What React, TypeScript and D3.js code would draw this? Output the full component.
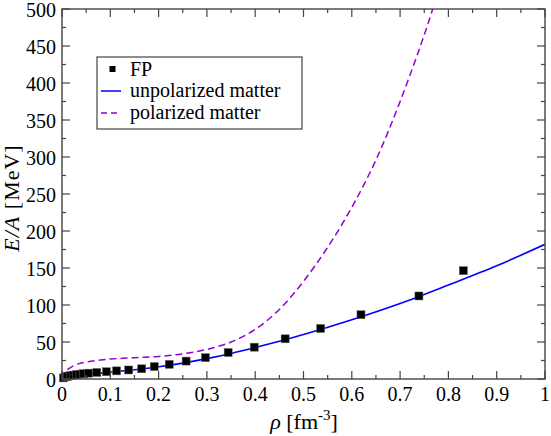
import React from "react";
import * as d3 from "d3";

const fpRho = [0.003, 0.008, 0.012, 0.017, 0.023, 0.03, 0.037, 0.045, 0.055, 0.072, 0.092, 0.113, 0.138, 0.165, 0.191, 0.222, 0.257, 0.297, 0.344, 0.398, 0.462, 0.5355, 0.619, 0.739, 0.831];
const fpE = [1.5, 3.0, 3.8, 4.5, 5.2, 5.9, 6.5, 7.2, 7.9, 8.8, 9.8, 11.0, 12.2, 13.8, 16.8, 19.8, 24.2, 28.8, 35.8, 43.0, 54.3, 68.3, 86.9, 112.2, 146.4];

const unpolRho = [0, 0.005, 0.01, 0.02, 0.04, 0.06, 0.08, 0.1, 0.15, 0.2, 0.25, 0.3, 0.35, 0.4, 0.45, 0.5, 0.6, 0.7, 0.8, 0.9, 1.0];
const unpolE = [0, 2.0, 2.8, 4.0, 5.6, 6.8, 8.0, 9.2, 12.5, 16.5, 21.5, 27.5, 34.5, 42.5, 51, 60, 80, 102, 127, 153, 182];

const polRho = [0, 0.005, 0.01, 0.02, 0.03, 0.04, 0.06, 0.08, 0.1, 0.15, 0.2, 0.25, 0.3, 0.35, 0.4, 0.45, 0.5, 0.55, 0.6, 0.65, 0.7, 0.75, 0.77, 0.78];
const polE = [0, 8, 12, 16.5, 19.5, 21.5, 24, 25.8, 27, 28.8, 30.5, 34, 40, 50, 67, 94, 132, 178, 232, 296, 375, 465, 505, 525];

const xTicks = [0, 0.1, 0.2, 0.3, 0.4, 0.5, 0.6, 0.7, 0.8, 0.9, 1];
const xTickLabels = ["0", "0.1", "0.2", "0.3", "0.4", "0.5", "0.6", "0.7", "0.8", "0.9", "1"];
const yTicks = [0, 50, 100, 150, 200, 250, 300, 350, 400, 450, 500];
const legendLabels = ["FP", "unpolarized matter", "polarized matter"];

const W = 551, H = 436;
const L = 62, R = 545, T = 9, B = 379;
const FONT = "'Liberation Serif', 'Times New Roman', serif";
const AXIS = "#444";

export default function App() {
  const x = d3.scaleLinear().domain([0, 1]).range([L, R]);
  const y = d3.scaleLinear().domain([0, 500]).range([B, T]);

  const unpol = unpolRho.map((r, i) => [r, unpolE[i]] as [number, number]);
  const pol = polRho.map((r, i) => [r, polE[i]] as [number, number]);
  const line = d3.line<[number, number]>().x(d => x(d[0])).y(d => y(d[1])).curve(d3.curveCatmullRom.alpha(0.5));

  const xMinor = d3.range(0.05, 1, 0.1);
  const yMinor = d3.range(25, 500, 50);

  return (
    <svg width={W} height={H} style={{ position: "absolute", left: 0, top: 0 }} fontFamily={FONT}>
      <rect x={0} y={0} width={W} height={H} fill="#fff" />
      <defs>
        <clipPath id="plotclip">
          <rect x={L} y={T} width={R - L} height={B - T} />
        </clipPath>
      </defs>
      <g clipPath="url(#plotclip)">
        <path d={line(pol) || ""} fill="none" stroke="#9400d3" strokeWidth={1.5} strokeDasharray="7,4" />
        <path d={line(unpol) || ""} fill="none" stroke="#0000ff" strokeWidth={1.6} />
      </g>
      {fpRho.map((r, i) => (
        <rect key={i} x={x(r) - 4} y={y(fpE[i]) - 4} width={8} height={8} fill="#000" stroke="#666" strokeWidth={0.5} />
      ))}
      {/* frame */}
      <rect x={L} y={T} width={R - L} height={B - T} fill="none" stroke={AXIS} strokeWidth={1.4} />
      {/* x ticks */}
      {xTicks.map((t, i) => (
        <g key={"xt" + i}>
          <line x1={x(t)} x2={x(t)} y1={B} y2={B - 8} stroke={AXIS} strokeWidth={1.2} />
          <line x1={x(t)} x2={x(t)} y1={T} y2={T + 8} stroke={AXIS} strokeWidth={1.2} />
          <text x={x(t)} y={401} textAnchor="middle" fontSize={20} fill="#000">{xTickLabels[i]}</text>
        </g>
      ))}
      {xMinor.map((t, i) => (
        <g key={"xm" + i}>
          <line x1={x(t)} x2={x(t)} y1={B} y2={B - 4} stroke={AXIS} strokeWidth={1.2} />
          <line x1={x(t)} x2={x(t)} y1={T} y2={T + 4} stroke={AXIS} strokeWidth={1.2} />
        </g>
      ))}
      {/* y ticks */}
      {yTicks.map((t, i) => (
        <g key={"yt" + i}>
          <line x1={L} x2={L + 8} y1={y(t)} y2={y(t)} stroke={AXIS} strokeWidth={1.2} />
          <line x1={R} x2={R - 8} y1={y(t)} y2={y(t)} stroke={AXIS} strokeWidth={1.2} />
          <text x={56} y={y(t) + 7.5} textAnchor="end" fontSize={20} fill="#000">{t}</text>
        </g>
      ))}
      {yMinor.map((t, i) => (
        <g key={"ym" + i}>
          <line x1={L} x2={L + 4} y1={y(t)} y2={y(t)} stroke={AXIS} strokeWidth={1.2} />
          <line x1={R} x2={R - 4} y1={y(t)} y2={y(t)} stroke={AXIS} strokeWidth={1.2} />
        </g>
      ))}
      {/* axis labels */}
      <text x={304} y={429} textAnchor="middle" fontSize={22} fill="#000">
        <tspan fontStyle="italic">ρ</tspan>
        <tspan> [fm</tspan>
        <tspan fontSize={15} dy={-9}>-3</tspan>
        <tspan dy={9}>]</tspan>
      </text>
      <text transform={`translate(19,198) rotate(-90)`} textAnchor="middle" fontSize={22} letterSpacing={1} fill="#000">
        <tspan fontStyle="italic">E/A</tspan>
        <tspan> [MeV]</tspan>
      </text>
      {/* legend */}
      <rect x={97} y={57} width={205} height={72} fill="#fff" stroke={AXIS} strokeWidth={1.2} />
      <rect x={109.5} y={66} width={6} height={6} fill="#000" />
      <text x={130} y={76} fontSize={20} fill="#000">{legendLabels[0]}</text>
      <line x1={101} x2={121} y1={91} y2={91} stroke="#0000ff" strokeWidth={1.5} />
      <text x={130} y={97} fontSize={20} fill="#000">{legendLabels[1]}</text>
      <line x1={101} x2={121} y1={113} y2={113} stroke="#9400d3" strokeWidth={1.5} strokeDasharray="6,4" />
      <text x={130} y={119} fontSize={20} fill="#000">{legendLabels[2]}</text>
    </svg>
  );
}
